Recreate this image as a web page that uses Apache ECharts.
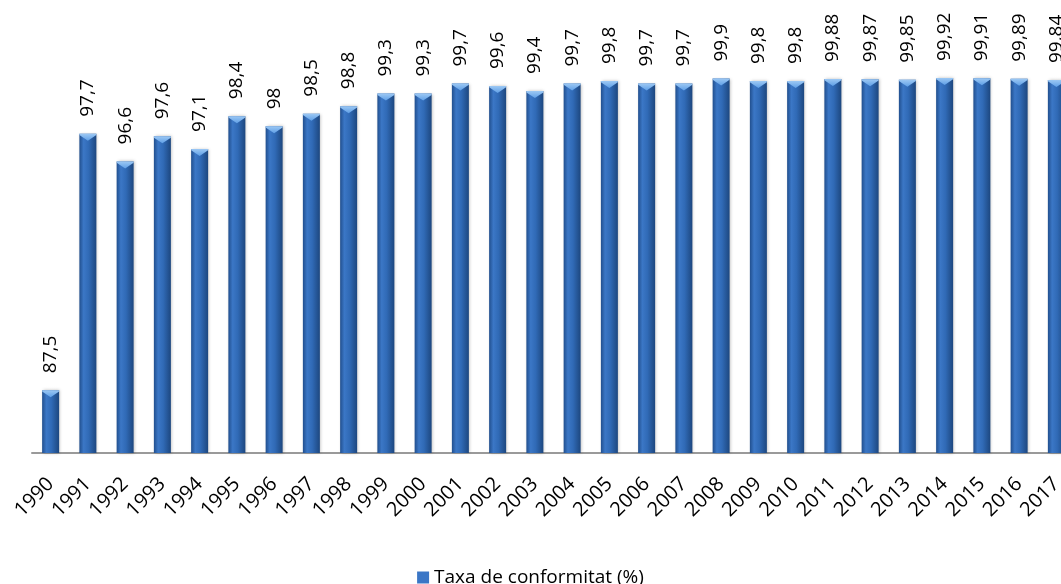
<!DOCTYPE html>
<html>
<head>
<meta charset="utf-8">
<script src="https://cdn.jsdelivr.net/npm/echarts@6/dist/echarts.min.js"></script>
<style>
  html, body { margin: 0; padding: 0; background: #ffffff; }
  #chart { width: 1061px; height: 584px; }
</style>
</head>
<body>
<div id="chart"></div>
<script>
// Years on the category axis
const years = ['1990','1991','1992','1993','1994','1995','1996','1997','1998','1999',
  '2000','2001','2002','2003','2004','2005','2006','2007','2008','2009',
  '2010','2011','2012','2013','2014','2015','2016','2017'];

// Compliance rate per year (%)
const rates = [87.5, 97.7, 96.6, 97.6, 97.1, 98.4, 98, 98.5, 98.8, 99.3,
  99.3, 99.7, 99.6, 99.4, 99.7, 99.8, 99.7, 99.7, 99.9, 99.8,
  99.8, 99.88, 99.87, 99.85, 99.92, 99.91, 99.89, 99.84];

const seriesName = 'Taxa de conformitat (%)';

// Decimal comma for the value labels
const fmt = v => String(v).replace('.', ',');

const barFill = {
  type: 'linear', x: 0, y: 0, x2: 1, y2: 0,
  colorStops: [
    { offset: 0, color: '#214f8e' },
    { offset: 0.25, color: '#3b77c6' },
    { offset: 0.55, color: '#306ab6' },
    { offset: 1, color: '#1d477f' }
  ]
};

const capFill = {
  type: 'linear', x: 0, y: 0, x2: 0, y2: 1,
  colorStops: [
    { offset: 0, color: '#9cc8f4' },
    { offset: 1, color: '#5f9fe6' }
  ]
};

const chart = echarts.init(document.getElementById('chart'));

chart.setOption({
  animation: false,
  backgroundColor: '#ffffff',
  grid: {
    left: 32, width: 1043, top: 76, height: 377,
    outerBoundsMode: 'none'
  },
  legend: {
    top: 563,
    left: 'center',
    itemWidth: 12,
    itemHeight: 12,
    itemGap: 5,
    data: [{ name: seriesName, icon: 'rect', itemStyle: { color: '#3a76c6' } }],
    textStyle: { fontFamily: 'Open Sans', fontSize: 19, color: '#000000' }
  },
  xAxis: {
    type: 'category',
    data: years,
    axisLine: { show: true, lineStyle: { color: '#9a9a9a', width: 2 } },
    axisTick: { show: false },
    axisLabel: {
      rotate: 45,
      interval: 0,
      margin: 28,
      fontFamily: 'Open Sans',
      fontSize: 20,
      color: '#000000'
    }
  },
  yAxis: {
    type: 'value',
    min: 85,
    max: 100,
    show: false,
    splitLine: { show: false }
  },
  series: [
    {
      name: seriesName,
      type: 'bar',
      data: rates,
      barWidth: 17,
      itemStyle: { color: barFill, shadowColor: 'rgba(0,0,0,0.25)', shadowBlur: 3, shadowOffsetX: 1 },
      z: 2
    },
    {
      // bevelled cap on each bar top
      name: 'cap',
      type: 'pictorialBar',
      data: rates,
      symbol: 'path://M0,0 L20,0 L20,1.5 L10,8 L0,1.5 Z',
      symbolSize: [17, 7],
      symbolPosition: 'end',
      symbolOffset: [0, 0],
      itemStyle: { color: capFill },
      barGap: '-100%',
      silent: true,
      z: 3
    },
    {
      // vertical value labels above each bar
      name: 'values',
      type: 'custom',
      data: rates.map((v, i) => [i, v]),
      encode: { x: 0, y: 1 },
      silent: true,
      z: 4,
      renderItem: (params, api) => {
        const pt = api.coord([api.value(0), api.value(1)]);
        return {
          type: 'text',
          x: pt[0],
          y: pt[1] - 17,
          rotation: Math.PI / 2,
          style: {
            text: fmt(rates[params.dataIndex]),
            fontFamily: 'Open Sans',
            fontSize: 19,
            fill: '#000000',
            align: 'left',
            verticalAlign: 'middle'
          }
        };
      }
    }
  ]
});
</script>
</body>
</html>
